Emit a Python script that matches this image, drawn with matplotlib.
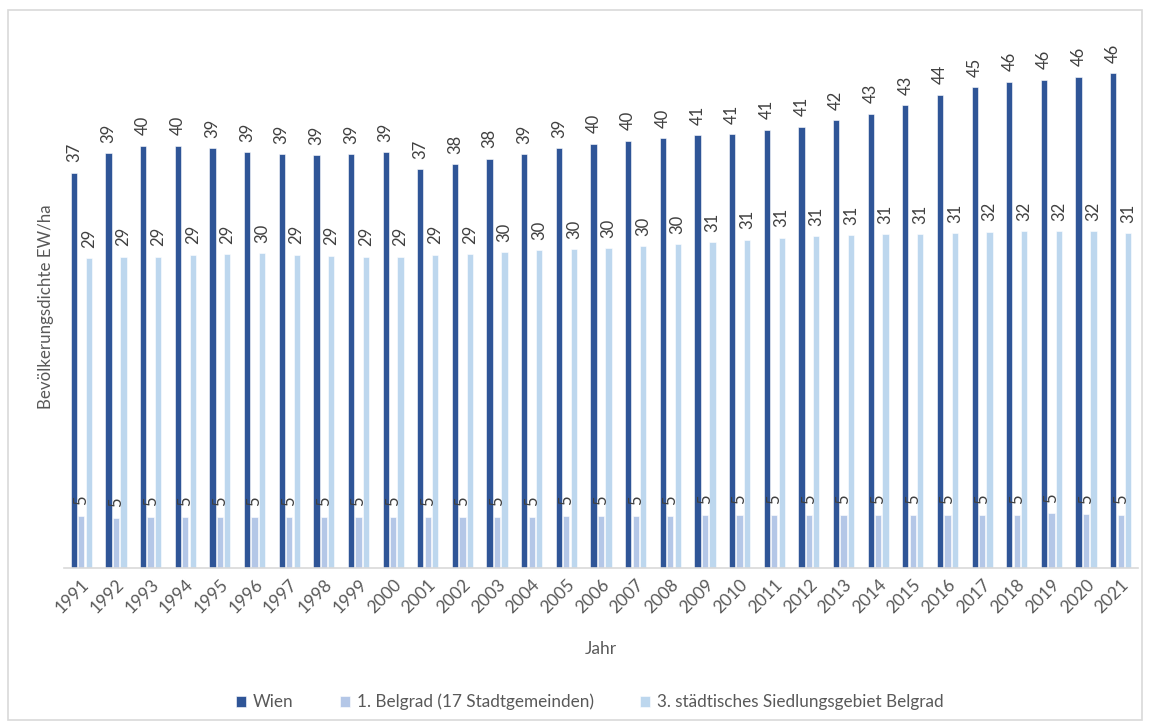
import matplotlib
matplotlib.use("Agg")
import matplotlib.pyplot as plt
import numpy as np
from matplotlib.patches import Rectangle

plt.rcParams['font.family'] = ['Lato', 'DejaVu Sans']

years = list(range(1991, 2022))
wien = [37.1, 38.9, 39.6, 39.6, 39.4, 39.0, 38.8, 38.7, 38.8, 39.0,
        37.4, 37.9, 38.4, 38.8, 39.4, 39.8, 40.1, 40.3, 40.6, 40.7,
        41.1, 41.4, 42.0, 42.6, 43.4, 44.4, 45.1, 45.6, 45.8, 46.1, 46.4]
belgrad_17 = [4.9, 4.7, 4.8, 4.8, 4.8, 4.8, 4.8, 4.8, 4.8, 4.8,
              4.8, 4.8, 4.8, 4.8, 4.9, 4.9, 4.9, 4.9, 5.0, 5.0,
              5.0, 5.0, 5.0, 5.0, 5.0, 5.0, 5.0, 5.0, 5.15, 5.05, 5.0]
belgrad_siedlung = [29.05, 29.2, 29.2, 29.4, 29.45, 29.55, 29.4, 29.3, 29.2, 29.2,
                    29.4, 29.45, 29.6, 29.8, 29.9, 30.0, 30.2, 30.4, 30.55, 30.8,
                    31.0, 31.15, 31.2, 31.3, 31.3, 31.4, 31.55, 31.6, 31.6, 31.6, 31.4]

series_names = ["Wien", "1. Belgrad (17 Stadtgemeinden)",
                "3. städtisches Siedlungsgebiet Belgrad"]
colors = ["#2F5597", "#B4C7E7", "#BDD7EE"]

fig = plt.figure(figsize=(11.5, 7.28), dpi=100)
fig.patches.append(Rectangle((8 / 1150, 1 - 720 / 728), 1134 / 1150, 710 / 728,
                             transform=fig.transFigure, fill=False,
                             edgecolor="#D9D9D9", linewidth=1.2))

ax = fig.add_axes([64 / 1150, 1 - 568 / 728, (1138 - 64) / 1150, (568 - 35) / 728])

x = np.arange(len(years))
offset = 0.215
width = 0.18
text_color = "#404040"
for i, (vals, col) in enumerate(zip([wien, belgrad_17, belgrad_siedlung], colors)):
    pos = x + (i - 1) * offset
    ax.bar(pos, vals, width=width, color=col, edgecolor="white", linewidth=0.4,
           label=series_names[i])
    for px, v in zip(pos, vals):
        ax.annotate(f"{v:.0f}", (px, v), xytext=(0, 7.5), textcoords="offset points",
                    rotation=90, ha="center", va="bottom", fontsize=12,
                    color=text_color)

ax.set_xlim(-0.5, len(years) - 0.5)
ax.set_ylim(0, 50)
ax.set_yticks([])
for s in ["left", "right", "top"]:
    ax.spines[s].set_visible(False)
ax.spines["bottom"].set_color("#D9D9D9")
ax.spines["bottom"].set_linewidth(1.2)

ax.set_xticks(x)
ax.set_xticklabels([str(y) for y in years], rotation=45, ha="right",
                   rotation_mode="anchor", fontsize=12.5, color="#595959")
ax.tick_params(axis="x", length=0, pad=6)

ax.set_xlabel("Jahr", fontsize=12.5, color="#595959", labelpad=18)
ax.set_ylabel("Bevölkerungsdichte EW/ha", fontsize=12.2, color="#595959")
ax.yaxis.set_label_coords(-0.0093, 0.49)

leg = fig.legend(loc="center", bbox_to_anchor=(0.513, 1 - 702 / 728), ncol=3,
                 frameon=False, fontsize=12.3, handlelength=0.6, handleheight=0.6,
                 columnspacing=2.7, handletextpad=0.4)
for t in leg.get_texts():
    t.set_color("#595959")

fig.savefig("out.png", dpi=100)
